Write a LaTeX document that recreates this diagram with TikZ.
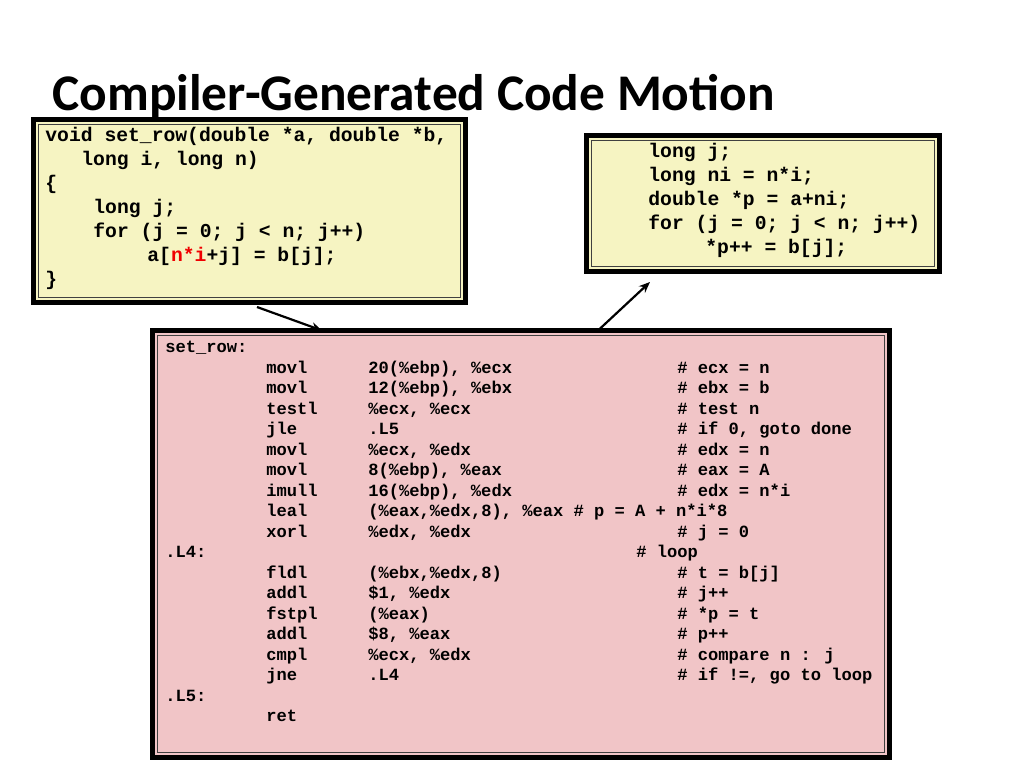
\documentclass[tikz,border=0pt]{standalone}
\usepackage{fontspec}
\usetikzlibrary{arrows.meta}
\newfontfamily\titlefont{Carlito}
\newfontfamily\codemono{Liberation Mono}
\definecolor{codeyellow}{RGB}{246,244,194}
\definecolor{codepink}{RGB}{241,197,199}
\definecolor{hotred}{RGB}{240,0,0}
\newcommand{\asmrow}[3]{\makebox[102pt][l]{#1}\makebox[309pt][l]{#2}#3}
\begin{document}
\begin{tikzpicture}[x=1pt, y=-1pt, thick, >={Stealth[length=11pt,width=9pt]},
    frame/.style={draw=black, line width=5pt, inner sep=0pt, outer sep=0pt, anchor=north west},
    inner frame/.style={draw=black!75, line width=0.9pt},
    big code/.style={anchor=base west, inner sep=0pt, font=\codemono\bfseries\fontsize{19.7}{24}\selectfont},
    small code/.style={anchor=base west, inner sep=0pt, font=\codemono\bfseries\fontsize{17.1}{20.5}\selectfont}]
    \useasboundingbox[fill=white] (0,0) rectangle (1024,768);

    \node[anchor=base west, inner sep=0pt, font=\titlefont\bfseries\fontsize{51.4}{60}\selectfont] at (52,110) (title) {Compiler-Generated Code Motion};

    % boxes
    \node[frame, fill=codeyellow, minimum width=432pt, minimum height=183pt] at (33.5,119.5) (left) {};
    \node[frame, fill=codeyellow, minimum width=353pt, minimum height=136pt] at (586.5,135.5) (right) {};
    \node[frame, fill=codepink, minimum width=737pt, minimum height=427pt] at (152.5,330.5) (asm) {};
    \draw[inner frame] ([shift={(5pt,-5pt)}]left.north west) rectangle ([shift={(-5pt,5pt)}]left.south east);
    \draw[inner frame] ([shift={(5pt,-5pt)}]right.north west) rectangle ([shift={(-5pt,5pt)}]right.south east);
    \draw[inner frame] ([shift={(5pt,-5pt)}]asm.north west) rectangle ([shift={(-5pt,5pt)}]asm.south east);

    % source
    \node[big code] at (45,141.5) (l1) {void set\_row(double *a, double *b,};
    \node[big code] at (81,165.5) (l2) {long i, long n)};
    \node[big code] at (45,189.5) (l3) {\{};
    \node[big code] at (93,213.5) (l4) {long j;};
    \node[big code] at (93,237.5) (l5) {for (j = 0; j < n; j++)};
    \node[big code] at (147,261.5) (l6) {a[\textcolor{hotred}{n*i}+j] = b[j];};
    \node[big code] at (45,285.5) (l7) {\}};

    % moved code
    \node[big code] at (648,157) (r1) {long j;};
    \node[big code] at (648,181) (r2) {long ni = n*i;};
    \node[big code] at (648,205) (r3) {double *p = a+ni;};
    \node[big code] at (648,229) (r4) {for (j = 0; j < n; j++)};
    \node[big code] at (705,253) (r5) {*p++ = b[j];};

    % assembly
    \node[small code] at (165,352.5) (a0) {set\_row:};
    \node[small code] at (266,373) (a1) {\asmrow{movl}{20(\%ebp), \%ecx}{\# ecx = n}};
    \node[small code] at (266,393.5) (a2) {\asmrow{movl}{12(\%ebp), \%ebx}{\# ebx = b}};
    \node[small code] at (266,414) (a3) {\asmrow{testl}{\%ecx, \%ecx}{\# test n}};
    \node[small code] at (266,434.5) (a4) {\asmrow{jle}{.L5}{\# if 0, goto done}};
    \node[small code] at (266,455) (a5) {\asmrow{movl}{\%ecx, \%edx}{\# edx = n}};
    \node[small code] at (266,475.5) (a6) {\asmrow{movl}{8(\%ebp), \%eax}{\# eax = A}};
    \node[small code] at (266,496) (a7) {\asmrow{imull}{16(\%ebp), \%edx}{\# edx = n*i}};
    \node[small code] at (266,516.5) (a8) {\makebox[102pt][l]{leal}(\%eax,\%edx,8), \%eax \# p = A + n*i*8};
    \node[small code] at (266,537) (a9) {\asmrow{xorl}{\%edx, \%edx}{\# j = 0}};
    \node[small code] at (165,557.5) (a10) {.L4:};
    \node[small code] at (636,557.5) (loop) {\# loop};
    \node[small code] at (266,578) (a11) {\asmrow{fldl}{(\%ebx,\%edx,8)}{\# t = b[j]}};
    \node[small code] at (266,598.5) (a12) {\asmrow{addl}{\$1, \%edx}{\# j++}};
    \node[small code] at (266,619) (a13) {\asmrow{fstpl}{(\%eax)}{\# *p = t}};
    \node[small code] at (266,639.5) (a14) {\asmrow{addl}{\$8, \%eax}{\# p++}};
    \node[small code] at (266,660) (a15) {\asmrow{cmpl}{\%ecx, \%edx}{\# compare n : j}};
    \node[small code] at (266,680.5) (a16) {\asmrow{jne}{.L4}{\# if !=, go to loop}};
    \node[small code] at (165,701) (a17) {.L5:};
    \node[small code] at (266,721.5) (a18) {ret};

    \path[->, line width=2.2pt] ([xshift=7.5pt, yshift=-4.5pt]left.south) edge ([xshift=169.5pt]asm.north west);
    \path[->, line width=2.2pt] ([xshift=445.5pt]asm.north west) edge ([xshift=63.5pt, yshift=-10.5pt]right.south west);
\end{tikzpicture}
\end{document}
